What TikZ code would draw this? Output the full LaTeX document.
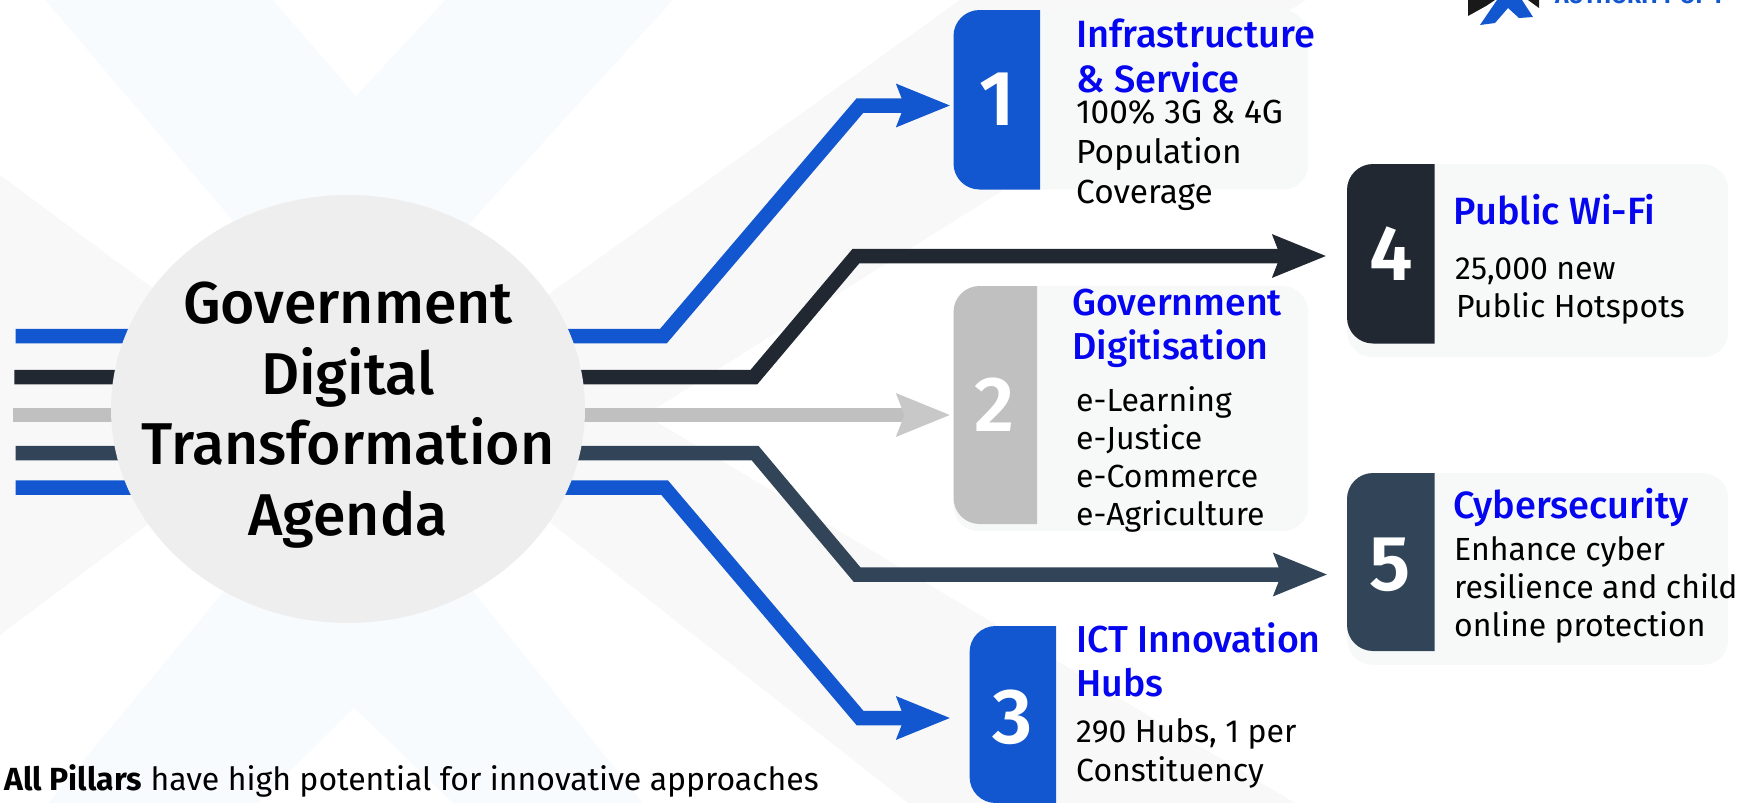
\documentclass[tikz,border=0pt]{standalone}
\usepackage{fontspec}
\setmainfont{Fira Sans}
\newfontfamily\fmed{Fira Sans Medium}
\newfontfamily\fsemi{Fira Sans SemiBold}
\usetikzlibrary{arrows.meta}
\definecolor{cblue}{HTML}{1257CF}
\definecolor{cdark}{HTML}{212832}
\definecolor{cgrey}{HTML}{C0C0C0}
\definecolor{cgreyhead}{HTML}{C8C8C8}
\definecolor{csteel}{HTML}{324558}
\definecolor{cpanel}{HTML}{F7F9F9}
\definecolor{cbggrey}{HTML}{F8F8F8}
\definecolor{cbgblue}{HTML}{F8FBFD}
\definecolor{chead}{HTML}{0505F0}
\definecolor{cellipse}{HTML}{EEEEEE}
\tikzset{
  bar/.style={line width=14.5pt,line join=miter},
  tipped/.style={bar,-{Stealth[length=53pt,width=41pt,inset=7pt]}},
  panel/.style={fill=cpanel,rounded corners=25pt,inner sep=0pt,anchor=north west},
  tab/.style={rounded corners=26pt},
  digit/.style={anchor=base,inner sep=0pt,text=white,font=\fontsize{78}{78}\selectfont\fsemi},
  titleline/.style={anchor=base,inner sep=0pt,text=black,font=\fontsize{59}{64}\selectfont\fmed},
  headline/.style={anchor=base west,inner sep=0pt,text=chead,font=\fontsize{38}{42}\selectfont\fmed},
  headlinesm/.style={headline,font=\fontsize{37.5}{42}\selectfont\fmed},
  bodyline/.style={anchor=base west,inner sep=0pt,text=black,font=\fontsize{32}{36}\selectfont},
  bodylinelg/.style={bodyline,font=\fontsize{33.4}{36}\selectfont},
}
\begin{document}
\begin{tikzpicture}[x=1pt,y=-1pt]
\useasboundingbox (0,0) rectangle (1740,803);
\clip (0,0) rectangle (1740,803);
% background X shapes
\fill[cbgblue] (45,0) -- (273,0) -- (356,96) -- (445,0) -- (673,0) -- (400,300) -- (300,300) -- cycle;
\fill[cbgblue] (48,803) -- (258,803) -- (354,708) -- (453,803) -- (643,803) -- (400,500) -- (300,500) -- cycle;
\fill[cbggrey] (0,175) -- (309,404) -- (0,635) -- cycle;
\fill[cbggrey] (500,329) -- (960,0) -- (1306,0) -- (650,412) -- (650,418) -- (1295,803) -- (908,803) -- (500,483) -- cycle;
% logo
\fill[black!90] (1468,0) -- (1468,16) -- (1486,6) -- (1495,0) -- cycle;
\fill[black!90] (1528,0) -- (1539,8) -- (1539,0) -- cycle;
\fill[cblue] (1480,25) -- (1497,0) -- (1522,0) -- (1533,17) -- (1519,18) -- (1508,8) -- (1495,23) -- cycle;
\node[anchor=base west,inner sep=0pt,text=cblue,font=\fontsize{23}{24}\selectfont\bfseries] (logotext) at (1555,3.5) {AUTHORITY OF T};
% panels
\node[panel,minimum width=354.5pt,minimum height=179.5pt] (p1) at (953.5,10) {};
\node[panel,minimum width=354.5pt,minimum height=245pt] (p2) at (953.5,286) {};
\node[panel,minimum width=381pt,minimum height=193pt] (p4) at (1347,164) {};
\node[panel,minimum width=381pt,minimum height=191.6pt] (p5) at (1347,473) {};
% tabs
\fill[cblue,tab] (1040,189.5) [sharp corners] -- (1040,10) [rounded corners=26pt] -- (953.5,10) -- (953.5,189.5) [sharp corners] -- cycle;
\fill[cgrey,tab] (1037,524) [sharp corners] -- (1037,286) [rounded corners=26pt] -- (953.5,286) -- (953.5,524) [sharp corners] -- cycle;
\fill[cblue,tab] (1056,803) [sharp corners] -- (1056,626) [rounded corners=26pt] -- (969.6,626) -- (969.6,803) [sharp corners] -- cycle;
\fill[cdark,tab] (1434.5,343.5) [sharp corners] -- (1434.5,164) [rounded corners=26pt] -- (1347,164) -- (1347,343.5) [sharp corners] -- cycle;
\fill[csteel,tab] (1434.5,651) [sharp corners] -- (1434.5,473) [rounded corners=26pt] -- (1347,473) -- (1347,651) [sharp corners] -- cycle;
% connector ends
\coordinate (s1) at (15.5,336);
\coordinate (s4) at (14.3,377);
\coordinate (s2) at (13,415);
\coordinate (s5) at (15.5,453);
\coordinate (s3) at (15.5,487.5);
\coordinate (t1) at (950.5,105.5);
\coordinate (t4) at (1326.5,256);
\coordinate (t2) at (950.5,415);
\coordinate (t5) at (1327.5,574.5);
\coordinate (t3) at (950.5,718);
% connectors
\draw[tipped,cblue] (s1) -- (663.5,336) -- (860,105.5) -- (t1);
\draw[tipped,cdark] (s4) -- (754,377) -- (856,256) -- (t4);
\draw[bar,cgrey,-{Stealth[length=53pt,width=41pt,inset=7pt,cgreyhead]}] (s2) -- (t2);
\draw[tipped,csteel] (s5) -- (755,453) -- (857,574.5) -- (t5);
\draw[tipped,cblue] (s3) -- (664.5,487.5) -- (860,718) -- (t3);
% central ellipse
\fill[cellipse] (348,409) ellipse [x radius=237,y radius=214];
\coordinate (agenda) at (348,409);
\node[titleline] (ta) at (348,323.8) {Government};
\node[titleline] (tb) at (348,394) {Digital};
\node[titleline] (tc) at (348,464.2) {Transformation};
\node[titleline] (td) at (348,535) {Agenda};
% digits
\node[digit] (d1) at (997,125.5) {1};
\node[digit] (d2) at (994,431.6) {2};
\node[digit] (d3) at (1013,743.5) {3};
\node[digit] (d4) at (1391,280) {4};
\node[digit] (d5) at (1390,590) {5};
% pillar 1
\node[headline] (h1a) at (1076,47.6) {Infrastructure};
\node[headline] (h1b) at (1076,92.5) {\& Service};
\node[bodylinelg] (b1a) at (1076,123) {100\% 3G \& 4G};
\node[bodylinelg] (b1b) at (1076,163) {Population};
\node[bodylinelg] (b1c) at (1076,203) {Coverage};
% pillar 2
\node[headlinesm] (h2a) at (1072,315.5) {Government};
\node[headlinesm] (h2b) at (1072,359.5) {Digitisation};
\node[bodyline] (b2a) at (1076,411) {e-Learning};
\node[bodyline] (b2b) at (1076,449) {e-Justice};
\node[bodyline] (b2c) at (1076,487) {e-Commerce};
\node[bodyline] (b2d) at (1076,525) {e-Agriculture};
% pillar 3
\node[headlinesm] (h3a) at (1076,652) {ICT Innovation};
\node[headlinesm] (h3b) at (1076,696) {Hubs};
\node[bodyline] (b3a) at (1076,742.5) {290 Hubs, 1 per};
\node[bodyline] (b3b) at (1076,781) {Constituency};
% pillar 4
\node[headline] (h4a) at (1453.5,224) {Public Wi-Fi};
\node[bodyline] (b4a) at (1455,279) {25,000 new};
\node[bodyline] (b4b) at (1456,317.5) {Public Hotspots};
% pillar 5
\node[headline] (h5a) at (1453.5,518.5) {Cybersecurity};
\node[bodyline] (b5a) at (1454,560) {Enhance cyber};
\node[bodyline] (b5b) at (1454,598) {resilience and child};
\node[bodyline] (b5c) at (1454,636.5) {online protection};
% footnote
\node[bodyline] (foot) at (4,790) {{\bfseries All Pillars} have high potential for innovative approaches};
\end{tikzpicture}
\end{document}
